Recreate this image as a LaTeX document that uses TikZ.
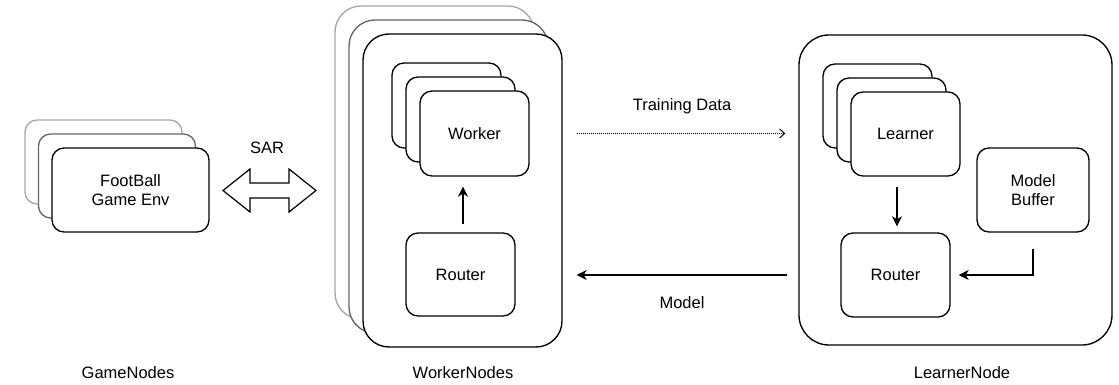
\documentclass[tikz,border=0pt]{standalone}
\usepackage{fontspec}
\setmainfont{Liberation Sans}
\usetikzlibrary{arrows.meta,calc}
\tikzset{
  box/.style={draw, line width=1.35pt, rounded corners=12pt, align=center, inner sep=0pt,
    fill=white, font=\fontsize{16.5}{19.5}\selectfont},
  bigbox/.style={box, rounded corners=26pt},
  backA/.style={draw=black!35},
  backB/.style={draw=black!60},
  lbl/.style={font=\fontsize{16.5}{19.5}\selectfont},
  arr/.style={line width=1.35pt, -{Stealth[length=10pt,width=10pt,inset=3pt]}},
}
\begin{document}
\begin{tikzpicture}[x=1pt,y=-1pt]
\useasboundingbox (0,0) rectangle (1119,385);

% Game nodes
\node[box, backA, minimum width=157pt, minimum height=84pt] (g3) at (103.5,162) {};
\node[box, backB, minimum width=157pt, minimum height=84pt] (g2) at (117,176) {};
\node[box, minimum width=157pt, minimum height=84pt] (game) at (130.5,190) {FootBall\\Game Env};

% Worker nodes outer
\node[bigbox, backA, minimum width=199pt, minimum height=313pt] (wo3) at (434.5,162.5) {};
\node[bigbox, backB, minimum width=199pt, minimum height=313pt] (wo2) at (448.5,176.5) {};
\node[bigbox, minimum width=199pt, minimum height=313pt] (wout) at (462.5,190.5) {};

% Worker stack
\node[box, minimum width=109pt, minimum height=85pt] (wk3) at (446.5,105.5) {};
\node[box, minimum width=109pt, minimum height=85pt] (wk2) at (460.5,119.5) {};
\node[box, minimum width=109pt, minimum height=85pt] (worker) at (474.5,133.5) {Worker};
\node[box, minimum width=109pt, minimum height=83pt] (wrouter) at (460.5,274.5) {Router};

% Learner node
\node[bigbox, rounded corners=30pt, minimum width=313pt, minimum height=310pt] (lout) at (955.5,190) {};
\node[box, minimum width=109pt, minimum height=84pt] (ln3) at (877.5,106) {};
\node[box, minimum width=109pt, minimum height=84pt] (ln2) at (891.5,120) {};
\node[box, minimum width=109pt, minimum height=84pt] (learner) at (905.5,134) {Learner};
\node[box, minimum width=112pt, minimum height=84pt] (buffer) at (1033,190) {Model\\Buffer};
\node[box, minimum width=109pt, minimum height=84pt] (lrouter) at (895.5,275) {Router};

% SAR double arrow
\draw[line width=1.2pt, line join=miter]
  (223,190.5) -- (250,169) -- (250,183) -- (289,183) -- (289,169) -- (316,190.5)
  -- (289,212) -- (289,198) -- (250,198) -- (250,212) -- cycle;
\node[lbl] (sar) at (267,148) {SAR};

% Worker internal arrow
\draw[arr, shorten <=8pt, shorten >=10pt] (wrouter.north -| 463,0) -- (worker.south -| 463,0);

% Learner internal arrows
\draw[arr, shorten <=10pt, shorten >=6pt] (learner.south -| 897,0) -- (lrouter.north -| 897,0);
\draw[arr, shorten <=16pt, shorten >=8pt] (buffer.south) |- (lrouter.east);

% Training data (dotted)
\draw[line width=1pt, dash pattern=on 1pt off 1pt, -{Straight Barb[length=5pt,width=9pt]}, shorten <=14pt, shorten >=13pt]
  (wout.east |- worker.center) -- (lout.west |- worker.center);
\node[lbl] (td) at (682,106) {Training Data};

% Model arrow
\draw[arr, shorten <=11pt, shorten >=14pt] (lout.west |- lrouter.center) -- (wout.east |- lrouter.center);
\node[lbl] (mdl) at (682,303) {Model};

% Bottom labels
\node[lbl] (gn) at (128,373) {GameNodes};
\node[lbl] (wn) at (463,373) {WorkerNodes};
\node[lbl] (lnl) at (962,373) {LearnerNode};
\end{tikzpicture}
\end{document}
